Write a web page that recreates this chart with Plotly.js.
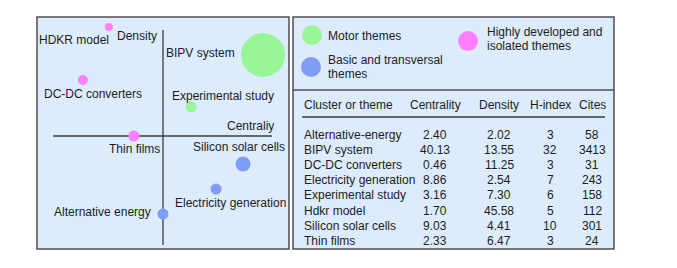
<!DOCTYPE html>
<html><head><meta charset="utf-8">
<script src="https://cdn.plot.ly/plotly-3.0.1.min.js"></script>
<style>html,body{margin:0;padding:0;background:#fff}</style>
</head><body><div id="chart" style="width:677px;height:268px"></div>
<script>
// ---- data ----
const tableNames = ['Alternative-energy','BIPV system','DC-DC converters','Electricity generation','Experimental study','Hdkr model','Silicon solar cells','Thin films'];
const chartLabels = ['Alternative energy','BIPV system','DC-DC converters','Electricity generation','Experimental study','HDKR model','Silicon solar cells','Thin films'];
const centrality = [2.40, 40.13, 0.46, 8.86, 3.16, 1.70, 9.03, 2.33];
const density = [2.02, 13.55, 11.25, 2.54, 7.30, 45.58, 4.41, 6.47];
const hIndex = [3, 32, 3, 7, 6, 5, 10, 3];
const cites = [58, 3413, 31, 243, 158, 112, 301, 24];
// positions on the strategic diagram (axes cross at 4,4)
const diagramX = [4.0, 7.85, 0.92, 6.04, 5.08, 1.92, 7.08, 2.88];
const diagramY = [1.10, 7.01, 6.08, 2.03, 5.08, 8.05, 2.96, 4.0];
const themeOf = ['basic','motor','isolated','basic','motor','isolated','basic','isolated'];
const headers = ['Cluster or theme','Centrality','Density','H-index','Cites'];
const legendThemes = ['motor','basic','isolated'];
const legendLines = [['Motor themes'],['Basic and transversal','themes'],['Highly developed and','isolated themes']];

// ---- styles ----
const W = 677, H = 268;
const FONT = 'Liberation Sans, Arial, sans-serif';
const TXT = '#1c1c1c';
const BG = '#ddecfc';
const BORDER = '#4f4f4f';
const themeColor = {motor:'#98f598', basic:'#7f9cf6', isolated:'#ff80fc'};
const bubbleSize = [11, 44, 10, 11, 11, 8, 15, 11];
// label placement: [xanchor, xshift, yshift]
const labelPlace = [['right',-10,2],['right',-26,2],['left',-41,-14],['left',-43,-14],['left',-21,11],['right',2,-13],['left',-52,17],['left',-27,-13]];

const px = v => v / W, py = v => 1 - v / H;

const shapes = [];
const annotations = [];
// panel boxes
shapes.push({type:'rect',xref:'paper',yref:'paper',x0:px(37),x1:px(289),y0:py(249),y1:py(17),fillcolor:BG,line:{color:BORDER,width:1.5},layer:'below'});
shapes.push({type:'rect',xref:'paper',yref:'paper',x0:px(293),x1:px(614),y0:py(249),y1:py(17),fillcolor:BG,line:{color:BORDER,width:1.5},layer:'below'});
shapes.push({type:'line',xref:'paper',yref:'paper',x0:px(293),x1:px(614),y0:py(90),y1:py(90),line:{color:BORDER,width:1.5}});
// diagram cross axes
shapes.push({type:'line',xref:'x',yref:'y',x0:4,x1:4,y0:-0.05,y1:7.94,line:{color:'#3c3c3c',width:1.3},layer:'below'});
shapes.push({type:'line',xref:'x',yref:'y',x0:-0.23,x1:8.19,y0:4,y1:4,line:{color:'#3c3c3c',width:1.3},layer:'below'});
annotations.push({xref:'paper',yref:'paper',x:px(159),y:py(36),xanchor:'right',yanchor:'middle',text:'Density',showarrow:false,font:{family:FONT,size:12,color:TXT}});
annotations.push({xref:'paper',yref:'paper',x:px(276),y:py(126),xanchor:'right',yanchor:'middle',text:'Centraliy',showarrow:false,font:{family:FONT,size:12,color:TXT}});
// bubble labels
chartLabels.forEach((t,i)=>{
  const p = labelPlace[i];
  annotations.push({xref:'x',yref:'y',x:diagramX[i],y:diagramY[i],xanchor:p[0],yanchor:'middle',xshift:p[1],yshift:p[2],text:t,showarrow:false,font:{family:FONT,size:12,color:TXT}});
});
// legend
const legendPos = [[312,35,326,[36]],[311,67,326,[60,74]],[468,41,485,[32,46]]];
legendThemes.forEach((th,k)=>{
  const [cx,cy,tx,tys] = legendPos[k];
  shapes.push({type:'circle',xref:'paper',yref:'paper',x0:px(cx-10),x1:px(cx+10),y0:py(cy+10),y1:py(cy-10),fillcolor:themeColor[th],line:{width:0}});
  legendLines[k].forEach((line,j)=>{
    annotations.push({xref:'paper',yref:'paper',x:px(tx),y:py(tys[j]),xanchor:'left',yanchor:'middle',text:line,showarrow:false,font:{family:FONT,size:12,color:TXT}});
  });
});
// table
const colX = [302, 435, 499, 550, 592];
const colAnchor = ['left','center','center','center','center'];
headers.forEach((h,c)=>{
  annotations.push({xref:'paper',yref:'paper',x:px(colX[c]),y:py(105),xanchor:colAnchor[c],yanchor:'middle',text:h,showarrow:false,font:{family:FONT,size:12,color:TXT}});
});
shapes.push({type:'line',xref:'paper',yref:'paper',x0:px(302),x1:px(605),y0:py(117),y1:py(117),line:{color:'#3c3c3c',width:1.3}});
tableNames.forEach((n,i)=>{
  const row = [n, centrality[i].toFixed(2), density[i].toFixed(2), String(hIndex[i]), String(cites[i])];
  const yy = 135 + i*15.1;
  row.forEach((v,c)=>{
    annotations.push({xref:'paper',yref:'paper',x:px(colX[c]),y:py(yy),xanchor:colAnchor[c],yanchor:'middle',text:v,showarrow:false,font:{family:FONT,size:12,color:TXT}});
  });
});

const trace = {
  type:'scatter', mode:'markers',
  x: diagramX, y: diagramY,
  text: chartLabels, hoverinfo:'text',
  marker:{size:bubbleSize, color: themeOf.map(t=>themeColor[t]), line:{width:0}, opacity:1}
};

const layout = {
  width: W, height: H,
  margin:{l:0,r:0,t:0,b:0,pad:0},
  paper_bgcolor:'#ffffff', plot_bgcolor:'rgba(0,0,0,0)',
  showlegend:false,
  xaxis:{domain:[px(37),px(289)],range:[4-126/26,4+126/26],visible:false,fixedrange:true},
  yaxis:{domain:[py(249),py(17)],range:[4-113/26.9,4+119/26.9],visible:false,fixedrange:true},
  shapes, annotations,
  font:{family:FONT,size:12,color:TXT}
};
Plotly.newPlot('chart',[trace],layout,{displayModeBar:false,staticPlot:true});
</script>
</body></html>
